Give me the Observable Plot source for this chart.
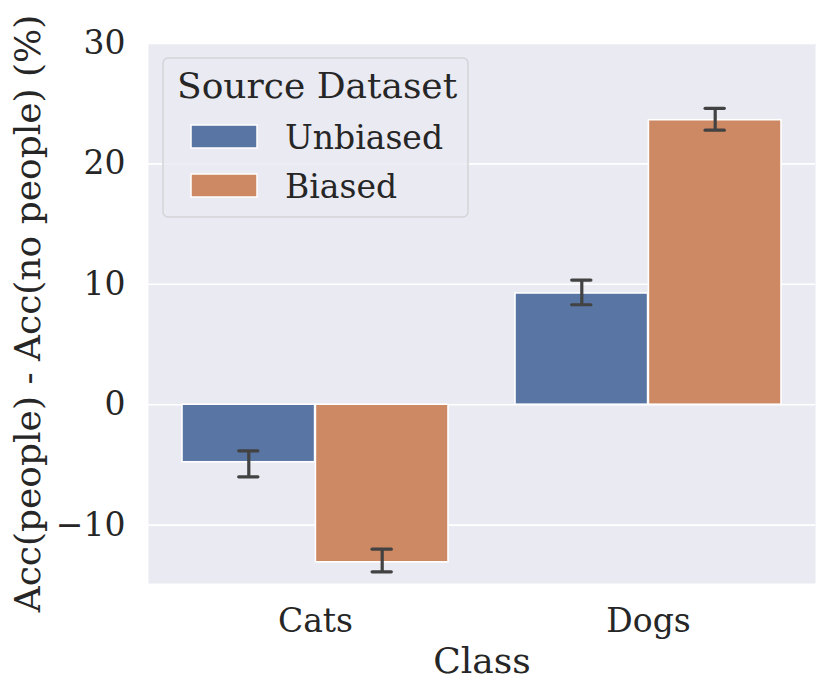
<!DOCTYPE html>
<html><head><meta charset="utf-8">
<script src="https://cdn.jsdelivr.net/npm/d3@7"></script>
<script src="https://cdn.jsdelivr.net/npm/@observablehq/plot@0.6"></script>
<style>body{margin:0;background:#fff;} #chart{position:relative;width:830px;height:695px;}</style>
</head><body><div id="chart"></div>
<script>
// ---- data ----
const classes = ["Cats", "Dogs"];
const datasets = ["Unbiased", "Biased"];
const unbiasedMean = [-4.78, 9.24];
const unbiasedLow  = [-5.99, 8.3];
const unbiasedHigh = [-3.83, 10.35];
const biasedMean   = [-13.09, 23.63];
const biasedLow    = [-13.88, 22.8];
const biasedHigh   = [-12.0, 24.62];
const yTicks = [-10, 0, 10, 20, 30];
const colors = ["#5875A4", "#CC8963"];

const rows = [];
classes.forEach((c, i) => {
  rows.push({cls: c, dataset: "Unbiased", mean: unbiasedMean[i], lo: unbiasedLow[i], hi: unbiasedHigh[i]});
  rows.push({cls: c, dataset: "Biased", mean: biasedMean[i], lo: biasedLow[i], hi: biasedHigh[i]});
});
const unb = rows.filter(d => d.dataset === "Unbiased");
const bia = rows.filter(d => d.dataset === "Biased");

// ---- layout ----
const W = 830, H = 695, mL = 148, mR = 15, mT = 43, mB = 112;
const padInner = 0.2, padOuter = 0.1;
const step = (W - mL - mR) / (classes.length - padInner + 2 * padOuter);
const bw = step * (1 - padInner);
const half = bw / 2;
const capHalf = 10;

const FONT = "DejaVu Serif";
const TEXT = "#262626";
const ERR = "#424242";

const plot = Plot.plot({
  width: W, height: H,
  marginLeft: mL, marginRight: mR, marginTop: mT, marginBottom: mB,
  style: {fontFamily: FONT, fontSize: "33px", color: TEXT, background: "white", overflow: "visible"},
  x: {domain: classes, paddingInner: padInner, paddingOuter: padOuter, tickSize: 0, tickPadding: 25,
      label: "Class", labelAnchor: "center", labelOffset: 89, labelArrow: "none"},
  y: {domain: [-14.85, 30], ticks: yTicks, tickSize: 0, tickPadding: 23,
      label: "Acc(people) - Acc(no people) (%)", labelAnchor: "center", labelOffset: 134, labelArrow: "none"},
  color: {domain: datasets, range: colors},
  marks: [
    Plot.frame({fill: "#EAEAF2", stroke: null}),
    Plot.gridY(yTicks, {stroke: "white", strokeOpacity: 1, strokeWidth: 1.6}),
    Plot.barY(unb, {x: "cls", y: "mean", fill: "dataset", insetRight: half, stroke: "white", strokeWidth: 1.6}),
    Plot.barY(bia, {x: "cls", y: "mean", fill: "dataset", insetLeft: half, stroke: "white", strokeWidth: 1.6}),
    Plot.ruleX(unb, {x: "cls", y1: "lo", y2: "hi", dx: -half / 2, stroke: ERR, strokeWidth: 3.2}),
    Plot.ruleX(bia, {x: "cls", y1: "lo", y2: "hi", dx: half / 2, stroke: ERR, strokeWidth: 3.2}),
    Plot.tickY(unb, {x: "cls", y: "lo", insetLeft: half / 2 - capHalf, insetRight: 1.5 * half - capHalf, stroke: ERR, strokeWidth: 3.2, strokeLinecap: "round"}),
    Plot.tickY(unb, {x: "cls", y: "hi", insetLeft: half / 2 - capHalf, insetRight: 1.5 * half - capHalf, stroke: ERR, strokeWidth: 3.2, strokeLinecap: "round"}),
    Plot.tickY(bia, {x: "cls", y: "lo", insetLeft: 1.5 * half - capHalf, insetRight: half / 2 - capHalf, stroke: ERR, strokeWidth: 3.2, strokeLinecap: "round"}),
    Plot.tickY(bia, {x: "cls", y: "hi", insetLeft: 1.5 * half - capHalf, insetRight: half / 2 - capHalf, stroke: ERR, strokeWidth: 3.2, strokeLinecap: "round"})
  ]
});
document.getElementById("chart").appendChild(plot);

const svg = d3.select(plot);
// axis titles are slightly larger than tick labels
svg.selectAll('g[aria-label="x-axis label"] text, g[aria-label="y-axis label"] text').attr("font-size", 36);

// ---- legend ----
const color = plot.scale("color");
const lg = svg.append("g").attr("transform", "translate(163,58)")
  .attr("font-family", FONT).attr("fill", TEXT).attr("text-anchor", "start");
lg.append("rect").attr("x", 0).attr("y", 0).attr("width", 305).attr("height", 159)
  .attr("rx", 5).attr("fill", "rgba(234,234,242,0.8)").attr("stroke", "#d3d3d8").attr("stroke-width", 1.5);
lg.append("text").attr("x", 14).attr("y", 40).attr("font-size", 36).text("Source Dataset");
datasets.forEach((d, i) => {
  const g = lg.append("g").attr("transform", `translate(0,${67 + i * 49})`);
  g.append("rect").attr("x", 28).attr("y", 0).attr("width", 66).attr("height", 23)
    .attr("fill", color.apply(d)).attr("stroke", "white").attr("stroke-width", 1.5);
  g.append("text").attr("x", 122).attr("y", 24).attr("font-size", 33).text(d);
});
</script>
</body></html>
